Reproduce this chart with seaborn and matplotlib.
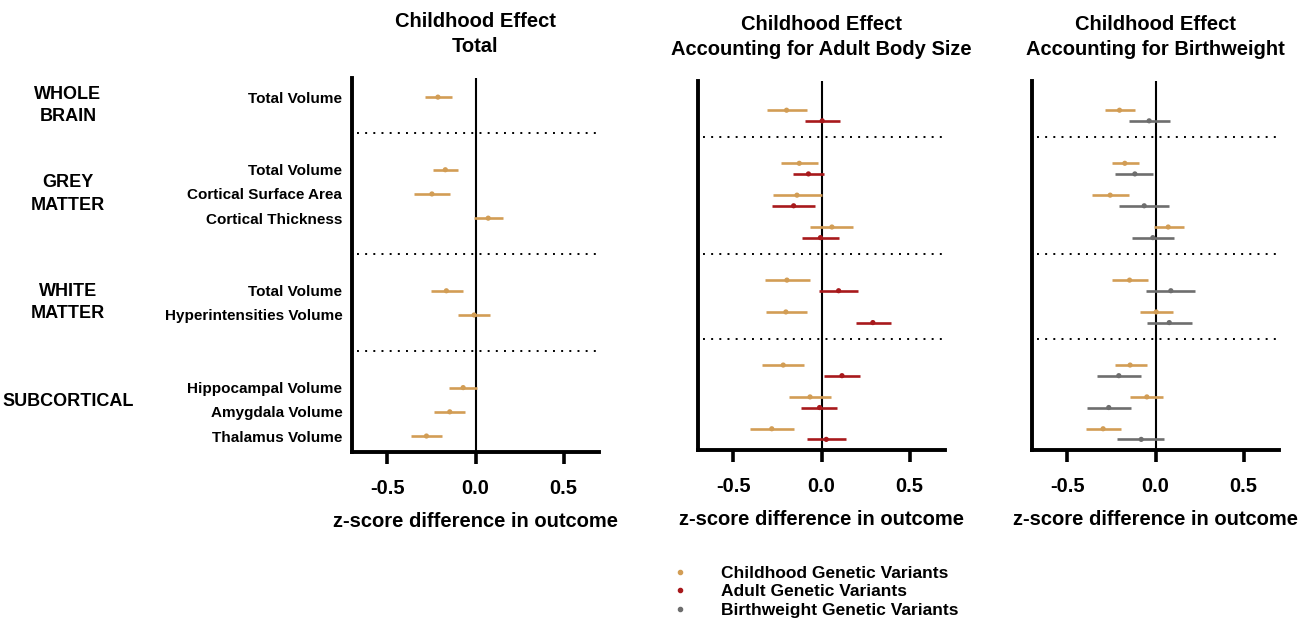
import matplotlib
matplotlib.use("Agg")
import matplotlib.pyplot as plt
from matplotlib.lines import Line2D
import pandas as pd
import seaborn as sns


groups = ["WHOLE\nBRAIN", "GREY\nMATTER", "WHITE\nMATTER", "SUBCORTICAL"]
group_of = [0, 1, 1, 1, 2, 2, 3, 3, 3]
measures = [
    "Total Volume",
    "Total Volume",
    "Cortical Surface Area",
    "Cortical Thickness",
    "Total Volume",
    "Hyperintensities Volume",
    "Hippocampal Volume",
    "Amygdala Volume",
    "Thalamus Volume",
]

total_est = [-0.213, -0.171, -0.247, 0.072, -0.165, -0.008, -0.070, -0.146, -0.278]
total_lo = [-0.287, -0.240, -0.350, -0.008, -0.255, -0.099, -0.152, -0.234, -0.365]
total_hi = [-0.133, -0.101, -0.144, 0.156, -0.070, 0.082, 0.011, -0.057, -0.188]

body_child_est = [-0.198, -0.126, -0.139, 0.059, -0.196, -0.202, -0.217, -0.065, -0.282]
body_child_lo = [-0.310, -0.229, -0.274, -0.063, -0.320, -0.316, -0.335, -0.183, -0.408]
body_child_hi = [-0.084, -0.019, 0.002, 0.179, -0.067, -0.084, -0.097, 0.053, -0.156]
body_adult_est = [0.004, -0.074, -0.158, -0.006, 0.097, 0.291, 0.116, -0.011, 0.027]
body_adult_lo = [-0.095, -0.164, -0.278, -0.109, -0.013, 0.194, 0.013, -0.118, -0.080]
body_adult_hi = [0.105, 0.017, -0.036, 0.099, 0.208, 0.394, 0.221, 0.086, 0.139]

bw_child_est = [-0.204, -0.174, -0.257, 0.072, -0.147, 0.004, -0.144, -0.049, -0.297]
bw_child_lo = [-0.287, -0.248, -0.359, -0.011, -0.246, -0.087, -0.231, -0.144, -0.395]
bw_child_hi = [-0.119, -0.095, -0.151, 0.159, -0.045, 0.100, -0.051, 0.042, -0.198]
bw_birth_est = [-0.036, -0.117, -0.064, -0.015, 0.087, 0.078, -0.208, -0.265, -0.081]
bw_birth_lo = [-0.151, -0.227, -0.208, -0.132, -0.053, -0.049, -0.329, -0.389, -0.216]
bw_birth_hi = [0.081, -0.015, 0.076, 0.106, 0.223, 0.206, -0.085, -0.138, 0.051]

titles = [
    "Childhood Effect\nTotal",
    "Childhood Effect\nAccounting for Adult Body Size",
    "Childhood Effect\nAccounting for Birthweight",
]
variants = ["Childhood Genetic Variants", "Adult Genetic Variants", "Birthweight Genetic Variants"]
colors = {
    "Childhood Genetic Variants": "#D29D55",
    "Adult Genetic Variants": "#A8191C",
    "Birthweight Genetic Variants": "#6E6E6E",
}
xticks = [-0.5, 0.0, 0.5]


def row_positions(item_step, group_step, sub_rows):
    # base position of each measure, plus dotted separators between groups
    pos = []
    seps = []
    y = 0.0
    for i, g in enumerate(group_of):
        if i > 0:
            if g != group_of[i - 1]:
                seps.append(pos[-1] + (sub_rows - 1) + 1.5)
                y += group_step
            else:
                y += item_step
        pos.append(y)
    return pos, seps


def panel_frame(pos, offset, est, lo, hi, variant):
    return pd.DataFrame(
        {
            "y": [p + offset for p in pos],
            "est": est,
            "lo": lo,
            "hi": hi,
            "variant": variant,
        }
    )


def draw_panel(ax, df, seps, ylim, title):
    for variant, sub in df.groupby("variant", sort=False):
        ax.hlines(sub["y"], sub["lo"], sub["hi"], color=colors[variant], lw=1.9, zorder=2)
    sns.scatterplot(
        data=df, x="est", y="y", hue="variant", palette=colors, legend=False,
        s=14, edgecolor="none", ax=ax, zorder=3,
    )
    ax.axvline(0, color="black", lw=1.5, zorder=1)
    for s in seps:
        ax.axhline(s, color="black", lw=1.4, ls=(0, (1, 3.2)), xmin=0.02, xmax=1.0)
    ax.set_xlim(-0.7, 0.7)
    ax.set_ylim(*ylim)
    ax.set_xticks(xticks)
    ax.set_xticklabels([f"{t:.1f}" for t in xticks], fontsize=14.5, fontweight="bold")
    ax.tick_params(axis="x", length=8.5, width=2.6, pad=11, color="black", bottom=True)
    ax.set_xlabel("z-score difference in outcome", fontsize=14.5, fontweight="bold", labelpad=10)
    ax.set_ylabel("")
    ax.set_title(title, fontsize=14.5, fontweight="bold", pad=19, linespacing=1.4)
    for side in ("top", "right"):
        ax.spines[side].set_visible(False)
    for side in ("left", "bottom"):
        ax.spines[side].set_linewidth(2.8)
        ax.spines[side].set_color("black")


sns.set_theme(style="white")
plt.rcParams["font.family"] = ["Liberation Sans", "DejaVu Sans"]
plt.rcParams["text.color"] = "black"
plt.rcParams["axes.labelcolor"] = "black"
plt.rcParams["xtick.color"] = "black"
plt.rcParams["ytick.color"] = "black"

fig = plt.figure(figsize=(13.1, 6.21), dpi=100)
W, H = 1310, 621
ax1 = fig.add_axes([352 / W, 1 - 452 / H, 247 / W, (452 - 78) / H])
ax2 = fig.add_axes([698 / W, 1 - 450 / H, 247 / W, (450 - 81) / H])
ax3 = fig.add_axes([1032 / W, 1 - 450 / H, 247 / W, (450 - 81) / H])

# panel 1: one row per measure
ylim1 = (14.66, -0.79)
pos1, seps1 = row_positions(1, 3, 1)
df1 = panel_frame(pos1, 0, total_est, total_lo, total_hi, variants[0])
draw_panel(ax1, df1, seps1, ylim1, titles[0])
ax1.set_yticks(pos1)
ax1.set_yticklabels(measures, fontsize=11, fontweight="bold")
ax1.tick_params(axis="y", length=0, pad=7)
# group names sit in the middle of the band between separators
bounds = [ylim1[1]] + seps1 + [ylim1[0]]
for gi, name in enumerate(groups):
    ax1.text(-1.15, (bounds[gi] + bounds[gi + 1]) / 2, name, transform=ax1.get_yaxis_transform(),
             ha="center", va="center", fontsize=13, fontweight="bold", linespacing=1.4)

# panels 2 and 3: two rows per measure
pos2, seps2 = row_positions(3, 5, 2)
df2 = pd.concat([
    panel_frame(pos2, 0, body_child_est, body_child_lo, body_child_hi, variants[0]),
    panel_frame(pos2, 1, body_adult_est, body_adult_lo, body_adult_hi, variants[1]),
])
draw_panel(ax2, df2, seps2, (32.0, -2.75), titles[1])
ax2.set_yticks([])

df3 = pd.concat([
    panel_frame(pos2, 0, bw_child_est, bw_child_lo, bw_child_hi, variants[0]),
    panel_frame(pos2, 1, bw_birth_est, bw_birth_lo, bw_birth_hi, variants[2]),
])
draw_panel(ax3, df3, seps2, (32.0, -2.75), titles[2])
ax3.set_yticks([])

handles = [Line2D([], [], ls="none", marker="o", ms=3, color=colors[v]) for v in variants]
leg = fig.legend(
    handles, variants, loc="upper left", bbox_to_anchor=(671 / W, 1 - 566 / H),
    frameon=False, fontsize=12.5, handlelength=1.0, handletextpad=1.9,
    labelspacing=0.18, borderpad=0, borderaxespad=0,
)
for t in leg.get_texts():
    t.set_fontweight("bold")

fig.savefig("out.png", dpi=100, facecolor="white")
